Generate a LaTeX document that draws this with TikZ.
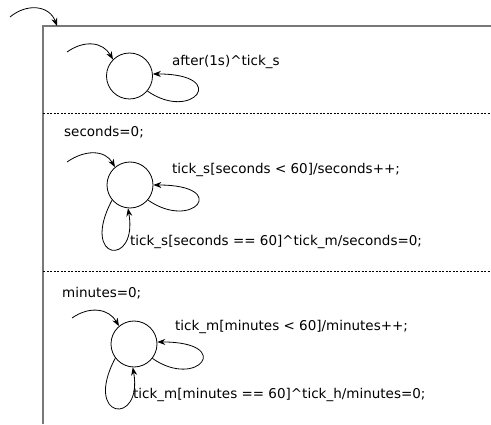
\documentclass[tikz,border=0pt]{standalone}
\usepackage{fontspec}
\setmainfont{DejaVu Sans}
\usetikzlibrary{arrows.meta,positioning,calc}
\definecolor{framegray}{RGB}{120,120,120}

\begin{document}
\begin{tikzpicture}[x=1pt,y=1pt,
  state/.style={circle,draw,line width=0.8pt,minimum size=46pt,inner sep=0pt},
  arc/.style={-{Stealth[length=8pt,width=6pt]},line width=0.8pt},
  lab/.style={font=\fontsize{13.5}{15}\selectfont,inner sep=0pt,anchor=west},
  frame/.style={draw=framegray,line width=1.8pt},
  sep/.style={line width=0.7pt,dash pattern=on 2pt off 1.5pt},
  rloop/.style={out=-35,in=0,out distance=55pt,in distance=78pt},
  bloop/.style={out=-118,in=-80,out distance=70pt,in distance=60pt}
]
\useasboundingbox (0,0) rectangle (491,424);
% outer region
\draw[frame] (43,0) |- (491,398);
\coordinate (top0) at (10,407);
\coordinate (topin) at (57,398);
\draw[arc] (top0) to[out=40,in=110,out distance=22pt,in distance=22pt] (topin);
\draw[sep] (43,311) -- (491,311);
\draw[sep] (43,153) -- (491,153);

% first region
\node[state] (s1) at (129.5,348) {};
\coordinate (i1) at (67,372);
\draw[arc] (i1) to[out=35,in=120,out distance=22pt,in distance=20pt] (s1.135);
\draw[arc] (s1.-40) to[rloop] (s1.5);
\node[lab] (t1) at (172,362) {after(1s)\^{}tick\_s};

% seconds
\node[lab] (init2) at (64,292) {seconds=0;};
\node[state] (s2) at (130,239) {};
\coordinate (i2) at (67,262);
\draw[arc] (i2) to[out=35,in=120,out distance=22pt,in distance=20pt] (s2.130);
\draw[arc] (s2.-40) to[rloop] (s2.0);
\draw[arc] (s2.-140) to[bloop] (s2.-95);
\node[lab] (t2) at (172,254) {tick\_s[seconds < 60]/seconds++;};
\node[lab] (t3) at (130,182) {tick\_s[seconds == 60]\^{}tick\_m/seconds=0;};

% minutes
\node[lab] (init3) at (62,131) {minutes=0;};
\node[state] (s3) at (134,80) {};
\coordinate (i3) at (72,106);
\draw[arc] (i3) to[out=35,in=120,out distance=22pt,in distance=20pt] (s3.130);
\draw[arc] (s3.-38) to[rloop] (s3.5);
\draw[arc] (s3.-143) to[bloop] (s3.-93);
\node[lab] (t4) at (175,97) {tick\_m[minutes < 60]/minutes++;};
\node[lab] (t5) at (133,29) {tick\_m[minutes == 60]\^{}tick\_h/minutes=0;};
\end{tikzpicture}
\end{document}
